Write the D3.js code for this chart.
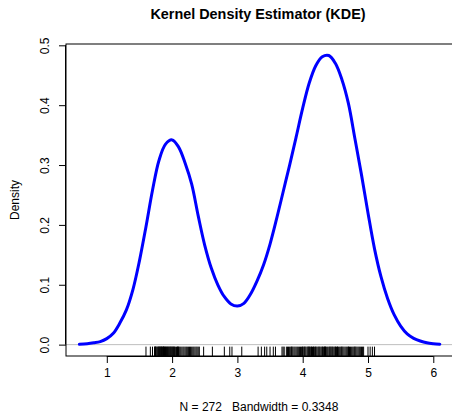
<!DOCTYPE html>
<html>
<head>
<meta charset="utf-8">
<script src="https://cdn.jsdelivr.net/npm/d3@7"></script>
<style>
  html, body { margin: 0; padding: 0; background: #fff; }
  svg { display: block; font-family: "Liberation Sans", Arial, Helvetica, sans-serif; }
</style>
</head>
<body>
<svg id="chart" width="452" height="414"></svg>
<script>
// Estimated density of eruption durations (minutes)
const gridX = [0.58, 0.7, 0.8, 0.9, 1.0, 1.1, 1.2, 1.3, 1.4, 1.5, 1.6, 1.7, 1.8, 1.9, 2.0,
  2.1, 2.2, 2.3, 2.4, 2.5, 2.6, 2.7, 2.8, 2.9, 3.0, 3.1, 3.2, 3.3, 3.4, 3.5, 3.6, 3.7,
  3.8, 3.9, 4.0, 4.1, 4.2, 4.3, 4.4, 4.5, 4.6, 4.7, 4.8, 4.9, 5.0, 5.1, 5.2, 5.3, 5.4,
  5.5, 5.6, 5.7, 5.8, 5.9, 6.0, 6.1];
const densityY = [0.0005, 0.0015, 0.003, 0.005, 0.010, 0.019, 0.036, 0.058, 0.092, 0.140,
  0.197, 0.258, 0.308, 0.335, 0.342, 0.330, 0.303, 0.268, 0.215, 0.166, 0.128, 0.100,
  0.080, 0.068, 0.0645, 0.069, 0.084, 0.106, 0.133, 0.168, 0.210, 0.255, 0.300, 0.347,
  0.395, 0.437, 0.466, 0.481, 0.483, 0.470, 0.443, 0.403, 0.344, 0.284, 0.220, 0.160,
  0.113, 0.077, 0.050, 0.031, 0.018, 0.0105, 0.006, 0.003, 0.0015, 0.0007];

// Individual observations shown as a rug (repeats darken the ticks)
const rugValues = [
  1.600, 1.667, 1.700, 1.733, 1.733, 1.750, 1.750, 1.750, 1.767, 1.783, 1.783, 1.800,
  1.800, 1.800, 1.817, 1.817, 1.833, 1.833, 1.833, 1.850, 1.850, 1.867, 1.867, 1.867,
  1.883, 1.883, 1.900, 1.900, 1.917, 1.917, 1.933, 1.933, 1.950, 1.950, 1.967, 1.967,
  1.983, 1.983, 2.000, 2.000, 2.017, 2.017, 2.033, 2.033, 2.050, 2.067, 2.083, 2.083,
  2.100, 2.100, 2.117, 2.133, 2.150, 2.167, 2.183, 2.200, 2.217, 2.233, 2.250, 2.267,
  2.283, 2.300, 2.317, 2.333, 2.350, 2.367, 2.383, 2.400, 2.417, 2.483, 2.617, 2.800,
  2.883, 2.917, 3.067,
  3.317, 3.367, 3.417, 3.450, 3.500, 3.550, 3.583, 3.683, 3.700, 3.717, 3.750, 3.767,
  3.783, 3.800, 3.817, 3.833, 3.833, 3.850, 3.867, 3.883, 3.900, 3.917, 3.933, 3.950,
  3.967, 3.983, 4.000, 4.000, 4.017, 4.033, 4.033, 4.050, 4.067, 4.083, 4.083, 4.100,
  4.100, 4.117, 4.133, 4.133, 4.150, 4.167, 4.167, 4.183, 4.200, 4.200, 4.217, 4.233,
  4.250, 4.250, 4.267, 4.283, 4.300, 4.300, 4.317, 4.333, 4.333, 4.350, 4.350, 4.367,
  4.383, 4.400, 4.417, 4.417, 4.433, 4.450, 4.450, 4.467, 4.483, 4.500, 4.500, 4.517,
  4.533, 4.533, 4.550, 4.567, 4.583, 4.600, 4.600, 4.617, 4.633, 4.650, 4.667, 4.683,
  4.700, 4.700, 4.717, 4.733, 4.750, 4.767, 4.783, 4.800, 4.800, 4.817, 4.833, 4.850,
  4.867, 4.883, 4.900, 4.917, 4.933, 5.000, 5.033, 5.067, 5.100];

const xTicks = [1, 2, 3, 4, 5, 6];
const yTicks = [0.0, 0.1, 0.2, 0.3, 0.4, 0.5];
const titleText = "Kernel Density Estimator (KDE)";
const xLabelText = "N = 272   Bandwidth = 0.3348";
const yLabelText = "Density";

const svg = d3.select("#chart");
const plot = { left: 66, right: 454.5, top: 44, bottom: 356 };

const x = d3.scaleLinear().domain([0.3752, 6.3248]).range([plot.left, plot.right]);
const y = d3.scaleLinear().domain([-0.019, 0.5022]).range([plot.bottom, plot.top]);

// Title
svg.append("text")
  .attr("x", 258).attr("y", 19)
  .attr("text-anchor", "middle")
  .attr("font-weight", "bold")
  .attr("font-size", 14.4)
  .attr("fill", "#000")
  .text(titleText);

// Reference line at zero density
svg.append("line")
  .attr("x1", plot.left).attr("x2", plot.right)
  .attr("y1", y(0)).attr("y2", y(0))
  .attr("stroke", "#bebebe").attr("stroke-width", 1);

// Density curve
const pts = gridX.map((v, i) => [v, densityY[i]]);
const line = d3.line().x(d => x(d[0])).y(d => y(d[1])).curve(d3.curveCatmullRom.alpha(0.5));
svg.append("path")
  .datum(pts)
  .attr("d", line)
  .attr("fill", "none")
  .attr("stroke", "#0000ff")
  .attr("stroke-width", 3)
  .attr("stroke-linejoin", "round")
  .attr("stroke-linecap", "round");

// Rug
const rugLen = (plot.bottom - plot.top) * 0.03;
svg.append("g").selectAll("line")
  .data(rugValues)
  .join("line")
  .attr("x1", d => x(d)).attr("x2", d => x(d))
  .attr("y1", plot.bottom).attr("y2", plot.bottom - rugLen)
  .attr("stroke", "#000")
  .attr("stroke-width", 1);

// Frame
svg.append("rect")
  .attr("x", plot.left).attr("y", plot.top)
  .attr("width", plot.right - plot.left).attr("height", plot.bottom - plot.top)
  .attr("fill", "none").attr("stroke", "#000").attr("stroke-width", 1);

// X axis
const xAxis = d3.axisBottom(x).tickValues(xTicks).tickSize(7).tickPadding(5)
  .tickFormat(d3.format("d"));
const gx = svg.append("g").attr("transform", `translate(0,${plot.bottom})`).call(xAxis);
gx.select(".domain").attr("d", `M${x(1)},0.5H${x(6)}`).attr("stroke", "#000");
gx.selectAll("text").attr("font-size", 12).attr("fill", "#000")
  .attr("font-family", "'Liberation Sans', Arial, sans-serif");
gx.selectAll(".tick line").attr("stroke", "#000");

// Y axis
const yAxis = d3.axisLeft(y).tickValues(yTicks).tickSize(7).tickPadding(0)
  .tickFormat(d3.format(".1f"));
const gy = svg.append("g").attr("transform", `translate(${plot.left},0)`).call(yAxis);
gy.select(".domain").attr("d", `M-0.5,${y(0)}V${y(0.5)}`).attr("stroke", "#000");
gy.selectAll(".tick line").attr("stroke", "#000");
gy.selectAll("text")
  .attr("font-size", 12).attr("fill", "#000")
  .attr("font-family", "'Liberation Sans', Arial, sans-serif")
  .attr("x", null).attr("dy", null)
  .attr("text-anchor", "middle")
  .attr("transform", "translate(-17,0) rotate(-90)");

// Axis titles
svg.append("text")
  .attr("x", 259).attr("y", 411)
  .attr("text-anchor", "middle")
  .attr("font-size", 12).attr("fill", "#000")
  .style("white-space", "pre")
  .text(xLabelText);

svg.append("text")
  .attr("transform", `translate(19,${(plot.top + plot.bottom) / 2}) rotate(-90)`)
  .attr("text-anchor", "middle")
  .attr("font-size", 12).attr("fill", "#000")
  .text(yLabelText);
</script>
</body>
</html>
